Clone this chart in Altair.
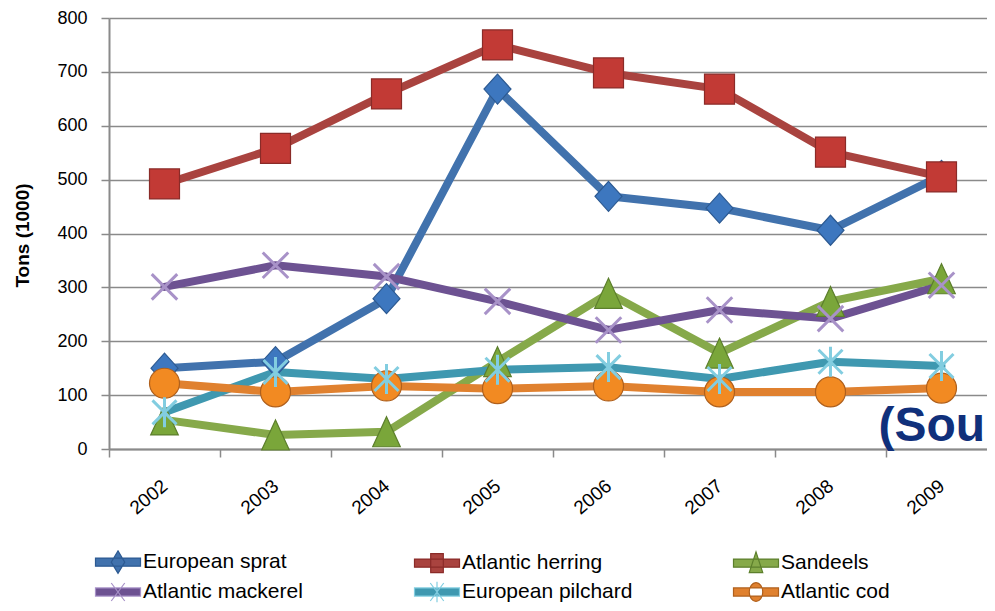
import altair as alt
import pandas as pd

years = ["2002", "2003", "2004", "2005", "2006", "2007", "2008", "2009"]
species = ["European sprat", "Atlantic herring", "Sandeels",
           "Atlantic mackerel", "European pilchard", "Atlantic cod"]

sprat = [150, 162, 279, 668, 469, 447, 406, 508]
herring = [492, 558, 659, 750, 698, 668, 551, 505]
sandeels = [54, 26, 32, 162, 289, 178, 274, 316]
mackerel = [301, 341, 320, 274, 221, 258, 242, 304]
pilchard = [68, 143, 130, 147, 152, 130, 162, 154]
cod = [122, 106, 117, 112, 117, 106, 106, 113]

note_text = ["(Sou"]
note_year = ["2009"]
note_value = [14]

line_colors = ["#4172ad", "#a9433f", "#86a94a", "#6d5292", "#3f98b0", "#e0812f"]
marker_fills = ["#3d77bf", "#c23a35", "#7aa63a", "#a892c8", "#82cde0", "#f28a22"]
marker_strokes = ["#2d5a92", "#8a2b28", "#5c7f2c", "#a892c8", "#82cde0", "#b0601c"]
marker_shapes = [
    "M0,-1L0.9,0L0,1L-0.9,0Z",
    "M-1,-1L1,-1L1,1L-1,1Z",
    "M0,-1L0.92,1L-0.92,1Z",
    "M-0.85,-0.85L0.85,0.85M-0.85,0.85L0.85,-0.85",
    "M-0.8,-0.8L0.8,0.8M-0.8,0.8L0.8,-0.8M0,-1L0,1",
    "circle",
]
bar = "M-1.5,-0.27L1.5,-0.27L1.5,0.27L-1.5,0.27Z"
legend_shapes = [
    bar + "M0,-0.75L0.45,0L0,0.75L-0.45,0Z",
    bar + "M-0.42,-0.63L0.42,-0.63L0.42,0.63L-0.42,0.63Z",
    bar + "M0,-0.75L0.45,0.63L-0.45,0.63Z",
    bar + "M-0.45,-0.6L0.45,0.6M-0.45,0.6L0.45,-0.6",
    bar + "M-0.45,-0.6L0.45,0.6M-0.45,0.6L0.45,-0.6M0,-0.68L0,0.68",
    bar + "M-0.45,0A0.45,0.63 0 1 0 0.45,0A0.45,0.63 0 1 0 -0.45,0Z",
]

rows = []
for sp, vals in zip(species, [sprat, herring, sandeels, mackerel, pilchard, cod]):
    for yr, v in zip(years, vals):
        rows.append({"year": yr, "species": sp, "value": v, "legend_species": sp})
df = pd.DataFrame(rows)

note_df = pd.DataFrame({"year": note_year, "value": note_value, "label": note_text})

FONT = "Liberation Sans"
GRAY = "#8a8a8a"

x_enc = alt.X(
    "year:N",
    sort=years,
    scale=alt.Scale(type="point", domain=years, padding=0.5, range=[0, 888]),
    axis=alt.Axis(
        title=None,
        labelAngle=-40,
        labelAlign="right",
        labelBaseline="middle",
        labelFont=FONT,
        labelFontSize=19,
        labelColor="#000000",
        labelPadding=26,
        labelOffset=55.5,
        tickOffset=-55.5,
        tickSize=8,
        tickColor=GRAY,
        tickWidth=1.5,
        domainColor=GRAY,
        domainWidth=2,
        grid=False,
    ),
)
y_enc = alt.Y(
    "value:Q",
    scale=alt.Scale(domain=[0, 800], nice=False),
    axis=alt.Axis(
        values=list(range(0, 801, 100)),
        title="Tons (1000)",
        titleFont=FONT,
        titleFontSize=19,
        titleFontWeight="bold",
        titleColor="#000000",
        titleX=-87,
        titleY=217,
        titleAngle=270,
        titleAlign="center",
        titleBaseline="middle",
        labelFont=FONT,
        labelFontSize=18,
        labelColor="#000000",
        labelPadding=14,
        tickSize=8,
        tickColor=GRAY,
        tickWidth=1.5,
        domainColor=GRAY,
        domainWidth=2,
        grid=True,
        gridColor=GRAY,
        gridWidth=1.5,
    ),
)

lines = alt.Chart(df).mark_line(strokeWidth=8, strokeJoin="round", strokeCap="round").encode(
    x=x_enc,
    y=y_enc,
    color=alt.Color("species:N", scale=alt.Scale(domain=species, range=line_colors), legend=None),
    detail="species:N",
)

shape_scale = alt.Scale(domain=species, range=marker_shapes)
fill_scale = alt.Scale(domain=species, range=marker_fills)
stroke_scale = alt.Scale(domain=species, range=marker_strokes)

filled_markers = alt.Chart(df).transform_filter(
    "datum.species != 'Atlantic mackerel' && datum.species != 'European pilchard'"
).mark_point(filled=True, size=900, strokeWidth=1.2, opacity=1).encode(
    x=x_enc,
    y=y_enc,
    shape=alt.Shape("species:N", scale=shape_scale, legend=None),
    fill=alt.Fill("species:N", scale=fill_scale, legend=None),
    stroke=alt.Stroke("species:N", scale=stroke_scale, legend=None),
)

open_markers = alt.Chart(df).transform_filter(
    "datum.species == 'Atlantic mackerel' || datum.species == 'European pilchard'"
).mark_point(filled=True, size=900, strokeWidth=3, opacity=1).encode(
    x=x_enc,
    y=y_enc,
    shape=alt.Shape("species:N", scale=shape_scale, legend=None),
    fill=alt.Fill("species:N", scale=fill_scale, legend=None),
    stroke=alt.Stroke("species:N", scale=stroke_scale, legend=None),
)

note = alt.Chart(note_df).mark_text(
    align="left", baseline="alphabetic", dx=-63, font=FONT, fontSize=48,
    fontWeight="bold", color="#10307b",
).encode(x=x_enc, y=y_enc, text="label:N")

leg = alt.Legend(
    title=None,
    orient="none",
    legendX=-7,
    legendY=528,
    columns=3,
    direction="horizontal",
    gridAlign="all",
    columnPadding=98,
    rowPadding=0,
    symbolSize=900,
    symbolStrokeWidth=1.2,
    symbolOpacity=1,
    labelFont=FONT,
    labelFontSize=21,
    labelColor="#000000",
    labelOffset=9,
    labelLimit=400,
    padding=0,
)

legend_layer = alt.Chart(df).transform_filter("false").mark_point(filled=True, opacity=1).encode(
    x=x_enc,
    y=y_enc,
    shape=alt.Shape("legend_species:N", scale=alt.Scale(domain=species, range=legend_shapes), legend=leg),
    fill=alt.Fill("legend_species:N", scale=alt.Scale(domain=species, range=line_colors), legend=leg),
    stroke=alt.Stroke("legend_species:N", scale=alt.Scale(domain=species, range=marker_strokes), legend=leg),
)

chart = alt.layer(lines, filled_markers, open_markers, note, legend_layer).resolve_scale(
    shape="independent", fill="independent", stroke="independent"
).properties(
    width=878,
    height=431,
    padding={"left": 101, "top": 10, "right": 0, "bottom": 154},
    autosize=alt.AutoSizeParams(type="none"),
    background="white",
).configure_view(stroke=None)

chart.save("out.html", embed_options={"renderer": "svg", "actions": False})
